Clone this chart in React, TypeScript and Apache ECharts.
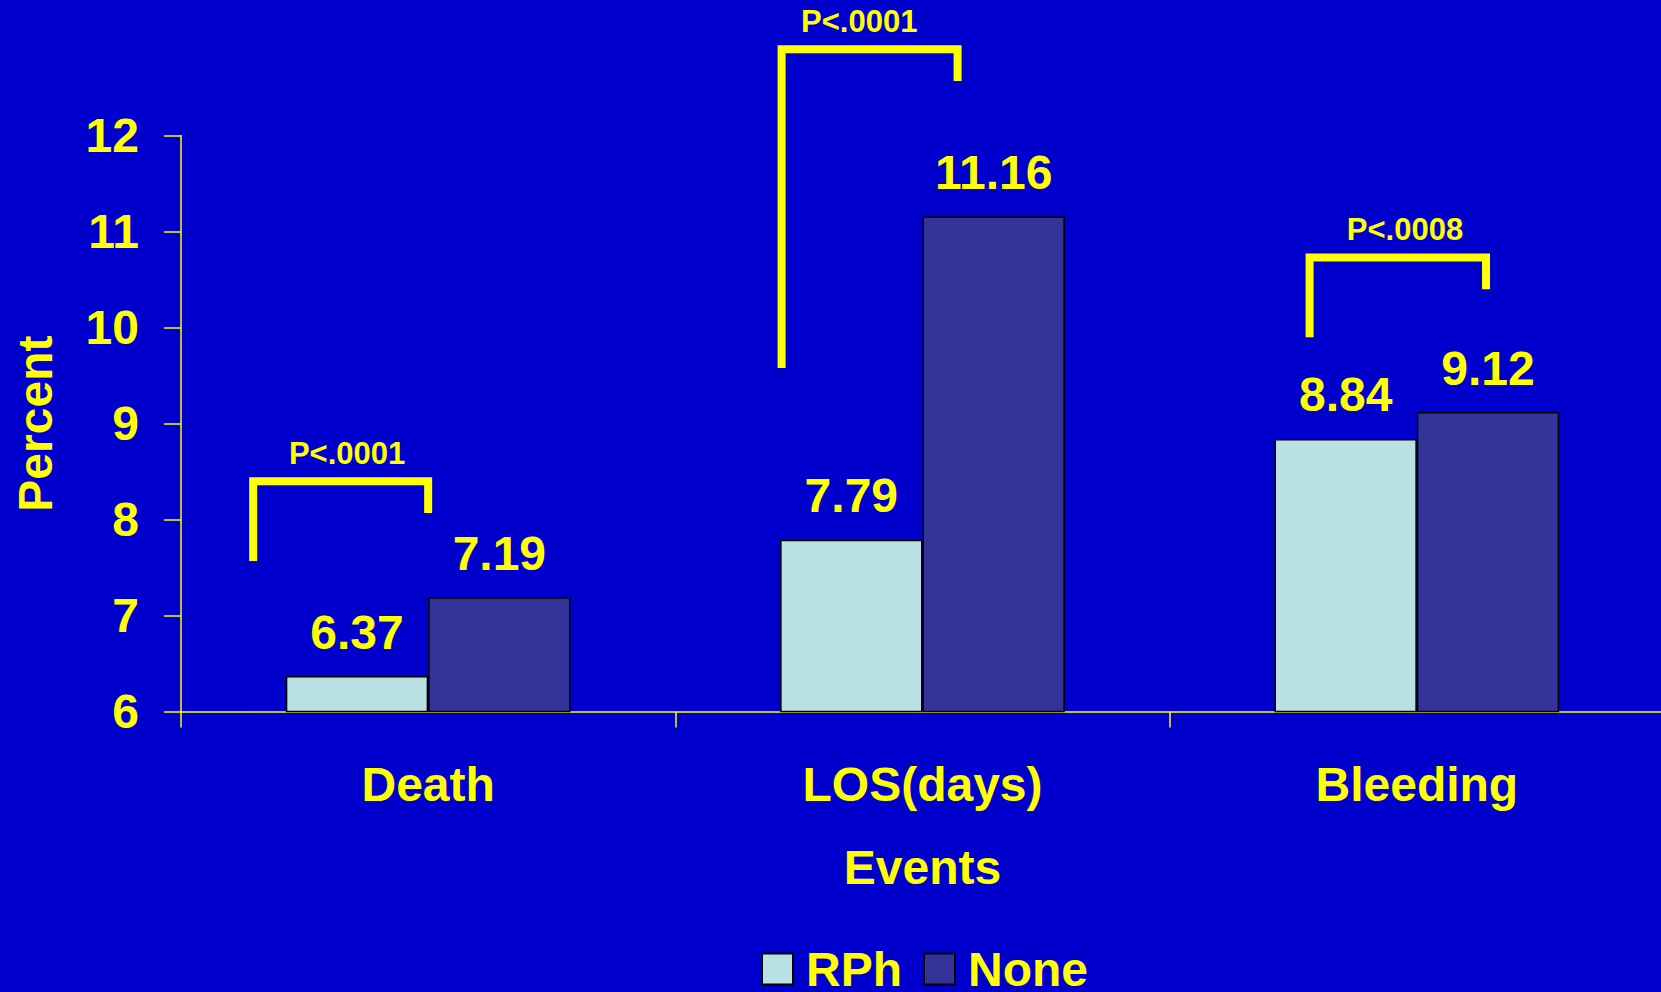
import React, { useEffect, useRef } from "react";
import * as echarts from "echarts";

// Event categories and the two groups compared
const categories = ["Death", "LOS(days)", "Bleeding"];
const rphValues = [6.37, 7.79, 8.84];
const noneValues = [7.19, 11.16, 9.12];
const pValueLabels = ["P<.0001", "P<.0001", "P<.0008"];

const yMin = 6;
const yMax = 12;
const yStep = 1;

const BG = "#0000CC";
const YELLOW = "#FFFF00";
const RPH_COLOR = "#B9E0E2";
const NONE_COLOR = "#333399";
const FONT = '"Liberation Sans", Arial, Helvetica, sans-serif';

// Significance bracket geometry: horizontal offsets in category widths from
// the category centre, vertical positions in axis units.
const bracketLayout = [
  { left: -0.354, right: 0.0, top: 8.4, leftEnd: 7.57, rightEnd: 8.07, text: -0.164 },
  { left: -0.285, right: 0.071, top: 12.9, leftEnd: 9.58, rightEnd: 12.57, text: -0.128 },
  { left: -0.217, right: 0.14, top: 10.73, leftEnd: 9.9, rightEnd: 10.4, text: -0.024 },
];

export default function App() {
  const ref = useRef<HTMLDivElement>(null);

  useEffect(() => {
    document.body.style.margin = "0";
    const chart = echarts.init(ref.current!, null, { renderer: "svg" });

    const valueLabel = {
      show: true,
      position: "top",
      distance: 20,
      color: YELLOW,
      fontSize: 48,
      fontWeight: "bold",
      fontFamily: FONT,
      lineHeight: 48,
    };

    chart.setOption({
      animation: false,
      backgroundColor: BG,
      textStyle: { fontFamily: FONT },
      grid: {
        left: 181,
        top: 135.6,
        width: 1483,
        height: 576,
        containLabel: false,
        outerBoundsMode: "none",
      },
      legend: {
        data: ["RPh", "None"],
        left: 761,
        top: 945,
        padding: 0,
        icon: "rect",
        itemWidth: 31,
        itemHeight: 31,
        itemGap: 21,
        textStyle: {
          color: YELLOW,
          fontSize: 48,
          fontWeight: "bold",
          fontFamily: FONT,
          lineHeight: 40,
          padding: [0, 0, 0, 8],
        },
      },
      xAxis: {
        type: "category",
        data: categories,
        name: "Events",
        nameLocation: "middle",
        nameGap: 132,
        nameTextStyle: { color: YELLOW, fontSize: 48, fontWeight: "bold", fontFamily: FONT, lineHeight: 48 },
        axisLine: { lineStyle: { color: YELLOW, width: 1.5 } },
        axisTick: { show: true, length: 16, lineStyle: { color: YELLOW, width: 1.5 } },
        axisLabel: { color: YELLOW, fontSize: 48, fontWeight: "bold", fontFamily: FONT, margin: 49, lineHeight: 48 },
        splitLine: { show: false },
      },
      yAxis: {
        type: "value",
        min: yMin,
        max: yMax,
        interval: yStep,
        name: "Percent",
        nameLocation: "middle",
        nameGap: 122,
        nameTextStyle: { color: YELLOW, fontSize: 48, fontWeight: "bold", fontFamily: FONT, lineHeight: 48 },
        axisLine: { show: true, lineStyle: { color: YELLOW, width: 1.5 } },
        axisTick: { show: true, length: 17, lineStyle: { color: YELLOW, width: 1.5 } },
        axisLabel: { color: YELLOW, fontSize: 48, fontWeight: "bold", fontFamily: FONT, margin: 42 },
        splitLine: { show: false },
      },
      series: [
        {
          name: "RPh",
          type: "bar",
          data: rphValues,
          barGap: "0%",
          barCategoryGap: "42.4%",
          itemStyle: { color: RPH_COLOR, borderColor: "#000000", borderWidth: 1.5 },
          label: valueLabel,
        },
        {
          name: "None",
          type: "bar",
          data: noneValues,
          barGap: "0%",
          barCategoryGap: "42.4%",
          itemStyle: { color: NONE_COLOR, borderColor: "#000000", borderWidth: 1.5 },
          label: valueLabel,
        },
      ],
    });

    // Significance brackets placed through the axes' own scales
    const c0 = chart.convertToPixel({ xAxisIndex: 0 }, categories[0]) as number;
    const c1 = chart.convertToPixel({ xAxisIndex: 0 }, categories[1]) as number;
    const catWidth = c1 - c0;
    const yPx = (v: number) => chart.convertToPixel({ yAxisIndex: 0 }, v) as number;

    const graphics: any[] = [];
    bracketLayout.forEach((b, i) => {
      const center = chart.convertToPixel({ xAxisIndex: 0 }, categories[i]) as number;
      const xl = center + b.left * catWidth;
      const xr = center + b.right * catWidth;
      const yt = yPx(b.top);
      graphics.push({
        type: "polyline",
        shape: {
          points: [
            [xl, yPx(b.leftEnd)],
            [xl, yt],
            [xr, yt],
            [xr, yPx(b.rightEnd)],
          ],
        },
        style: { stroke: YELLOW, lineWidth: 8, fill: null, lineJoin: "miter", lineCap: "butt" },
        z: 10,
      });
      graphics.push({
        type: "text",
        x: center + b.text * catWidth,
        y: yt - 28,
        style: {
          text: pValueLabels[i],
          fill: YELLOW,
          fontSize: 31,
          fontWeight: "bold",
          fontFamily: FONT,
          align: "center",
          verticalAlign: "middle",
        },
        z: 10,
      });
    });
    chart.setOption({ graphic: graphics });

    return () => chart.dispose();
  }, []);

  return <div ref={ref} style={{ position: "fixed", left: 0, top: 0, width: 1661, height: 992 }} />;
}
